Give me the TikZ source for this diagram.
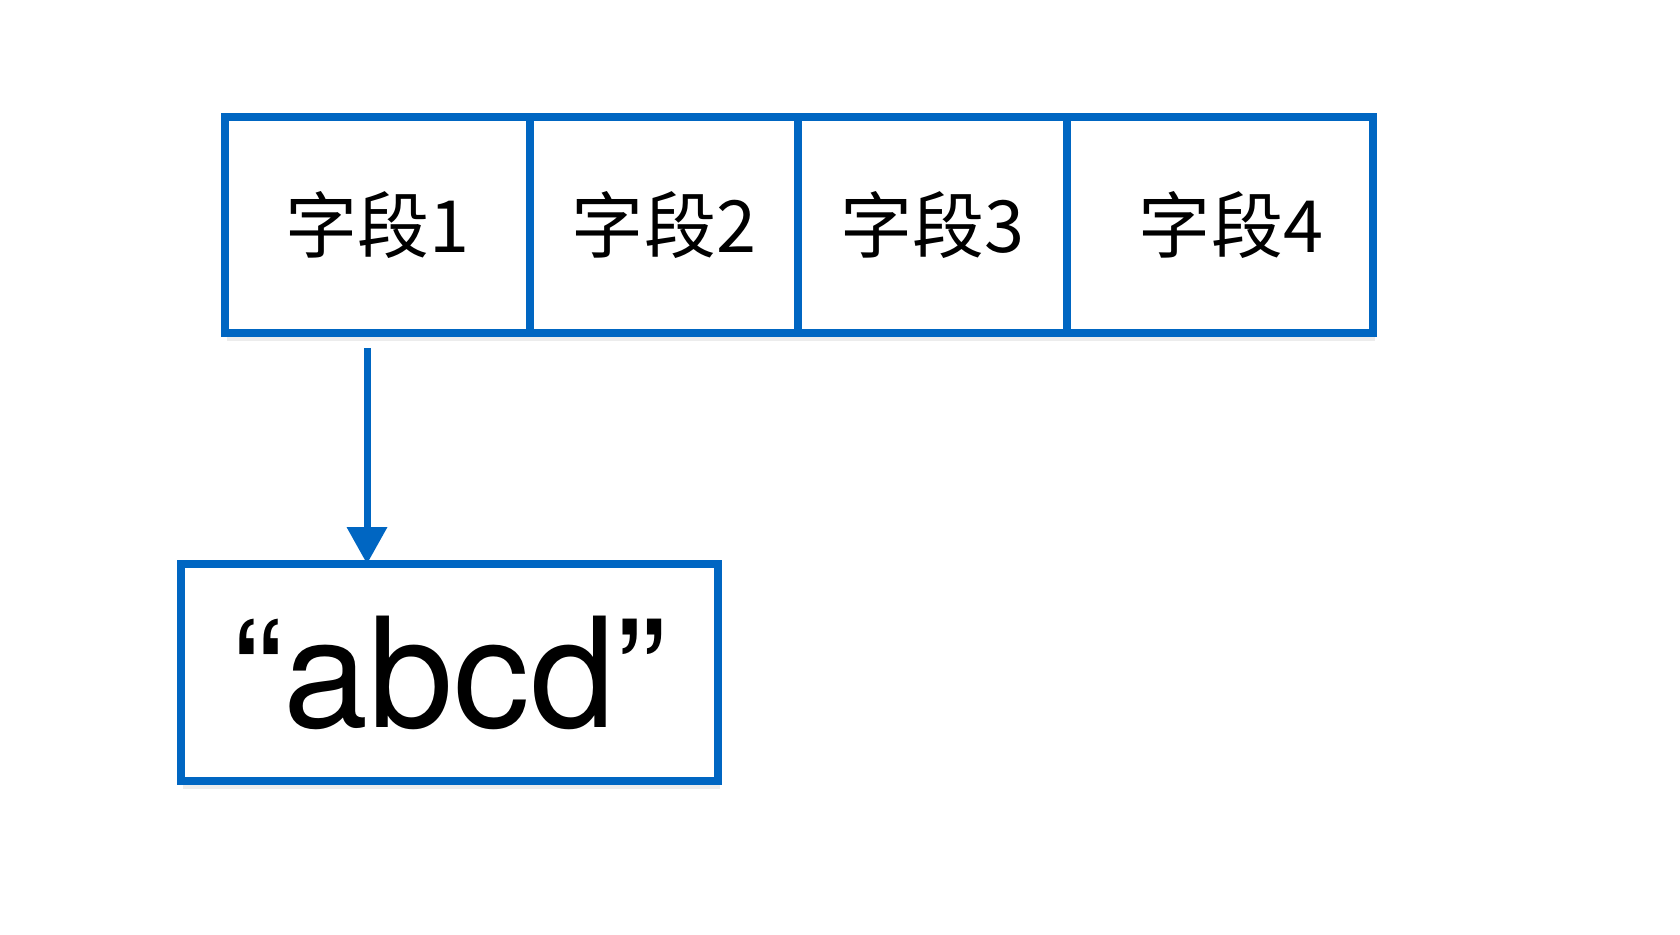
\documentclass[tikz,border=0pt]{standalone}
\usepackage{fontspec}
\newfontfamily\cjk{Noto Sans CJK SC}
\newfontfamily\helv{TeX Gyre Heros}
\usepackage{tikz}
\usetikzlibrary{positioning,arrows.meta,shadows}
\definecolor{fieldblue}{RGB}{0,102,194}

\begin{document}
\begin{tikzpicture}[
    field/.style={draw=fieldblue, line width=0.08cm, fill=white, inner sep=0pt, outer sep=0pt,
        minimum height=2.16cm, font=\cjk\fontsize{20.5}{24}\selectfont,
        drop shadow={opacity=0.15, shadow xshift=0.02cm, shadow yshift=-0.08cm}},
    valbox/.style={field, minimum width=5.37cm, minimum height=2.17cm, font=\helv\fontsize{43.5}{50}\selectfont},
    ptr/.style={draw=fieldblue, line width=0.07cm, -{Triangle[length=0.37cm, width=0.39cm]}}
]

    \useasboundingbox (0,0) rectangle (16.8,9.34);

    \node[field, minimum width=3.05cm] (f1) at (3.775,7.09) {字段1\hspace{0.18cm}}; % 1
    \node[field, minimum width=2.68cm, right=0pt of f1] (f2) {字段2}; % 2
    \node[field, minimum width=2.69cm, right=0pt of f2] (f3) {字段3}; % 3
    \node[field, minimum width=3.06cm, right=0pt of f3] (f4) {\hspace{0.22cm}字段4}; % 4

    \node[valbox] (val) at (4.495,2.615) {“abcd”};

    \draw[ptr] ([xshift=-0.105cm, yshift=-0.15cm]f1.south) -- ([xshift=-0.105cm]f1.south |- val.north);

\end{tikzpicture}
\end{document}
